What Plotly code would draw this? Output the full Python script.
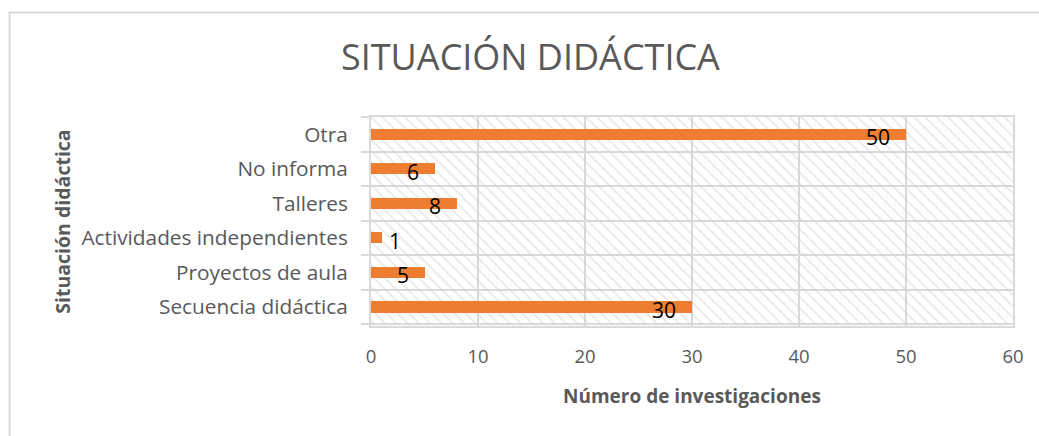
import plotly.graph_objects as go

categories = ["Secuencia didáctica", "Proyectos de aula", "Actividades independientes",
              "Talleres", "No informa", "Otra"]
values = [30, 5, 1, 8, 6, 50]
x_ticks = [0, 10, 20, 30, 40, 50, 60]
x_max = 60

title_text = "SITUACIÓN DIDÁCTICA"
x_title = "Número de investigaciones"
y_title = "Situación didáctica"

FONT = "Open Sans"
GREY = "#595959"
GRID = "#d9d9d9"
ORANGE = "#ED7D31"

fig = go.Figure()

# hatched plot background (spans the full value axis)
fig.add_trace(go.Bar(
    y=categories, x=[x_max] * len(categories), orientation="h", width=1,
    marker=dict(color="rgba(0,0,0,0)", line=dict(width=0),
                pattern=dict(shape="\\", fgcolor="#d0d0d0", bgcolor="rgba(0,0,0,0)",
                             size=8, solidity=0.2)),
    hoverinfo="skip", showlegend=False))

fig.add_trace(go.Bar(
    y=categories, x=values, orientation="h", width=0.32,
    marker=dict(color=ORANGE, line=dict(width=0)), showlegend=False))

annotations = []
for c, v in zip(categories, values):
    if v >= 3:
        annotations.append(dict(x=v, y=c, xref="x", yref="y", text=str(v), showarrow=False,
                                xanchor="right", xshift=-14, yshift=-3,
                                font=dict(family=FONT, size=21, color="black")))
    else:
        annotations.append(dict(x=v, y=c, xref="x", yref="y", text=str(v), showarrow=False,
                                xanchor="left", xshift=5, yshift=-3,
                                font=dict(family=FONT, size=21, color="black")))

annotations.append(dict(text=x_title, x=0.5, y=-0.333, xref="paper", yref="paper",
                        showarrow=False, xanchor="center", yanchor="middle",
                        font=dict(family=FONT, size=19, color=GREY, weight="bold")))
annotations.append(dict(text=y_title, x=-0.481, y=0.5, xref="paper", yref="paper",
                        showarrow=False, textangle=-90, xanchor="center", yanchor="middle",
                        font=dict(family=FONT, size=19.5, color=GREY, weight="bold")))
annotations.append(dict(text=title_text, x=0.248, y=1.29, xref="paper", yref="paper",
                        showarrow=False, xanchor="center", yanchor="middle",
                        font=dict(family=FONT, size=36, color=GREY)))

fig.update_layout(
    width=1039, height=436,
    margin=dict(l=371, r=26, t=117, b=110),
    paper_bgcolor="white", plot_bgcolor="white",
    barmode="overlay", bargap=0,
    annotations=annotations,
    shapes=[dict(type="rect", xref="paper", yref="paper",
                 x0=-0.563, x1=2, y0=-1, y1=1.50,
                 line=dict(color="#d9d9d9", width=2), layer="below")],
    xaxis=dict(range=[0, x_max], tickvals=x_ticks, showgrid=True, gridcolor=GRID, gridwidth=2,
               zeroline=False, showline=True, linecolor=GRID, linewidth=2, mirror=True,
               ticks="", tickfont=dict(family=FONT, size=18.5, color=GREY), ticklabelstandoff=13),
    yaxis=dict(type="category", categoryorder="array", categoryarray=categories,
               tickson="boundaries", showgrid=True, gridcolor=GRID, gridwidth=2,
               showline=True, linecolor=GRID, linewidth=2, mirror=True,
               ticks="outside", ticklen=8, tickcolor=GRID, tickwidth=2,
               tickfont=dict(family=FONT, size=20.8, color=GREY), ticklabelstandoff=17),
)

fig.write_html("out.html", config={"displayModeBar": False},
               post_script="document.body.style.margin='0';")
